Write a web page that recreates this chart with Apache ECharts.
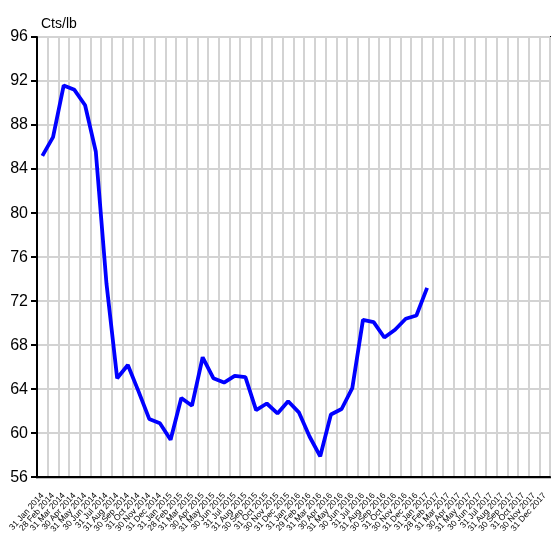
<!DOCTYPE html>
<html lang="en">
<head>
  <meta charset="UTF-8">
  <title>Cts/lb</title>
  <style>
    html, body { margin: 0; padding: 0; background: #fff; }
  </style>
</head>
<body>
<div id="main" style="width: 553px;height:536px;"></div>
<script src="https://cdn.jsdelivr.net/npm/echarts@6/dist/echarts.min.js"></script>
<script type="text/javascript">
  const dates = [
    '31 Jan 2014', '28 Feb 2014', '31 Mar 2014', '30 Apr 2014', '31 May 2014', '30 Jun 2014',
    '31 Jul 2014', '31 Aug 2014', '30 Sep 2014', '31 Oct 2014', '30 Nov 2014', '31 Dec 2014',
    '31 Jan 2015', '28 Feb 2015', '31 Mar 2015', '30 Apr 2015', '31 May 2015', '30 Jun 2015',
    '31 Jul 2015', '31 Aug 2015', '30 Sep 2015', '31 Oct 2015', '30 Nov 2015', '31 Dec 2015',
    '31 Jan 2016', '29 Feb 2016', '31 Mar 2016', '30 Apr 2016', '31 May 2016', '30 Jun 2016',
    '31 Jul 2016', '31 Aug 2016', '30 Sep 2016', '31 Oct 2016', '30 Nov 2016', '31 Dec 2016',
    '31 Jan 2017', '28 Feb 2017', '31 Mar 2017', '30 Apr 2017', '31 May 2017', '30 Jun 2017',
    '31 Jul 2017', '31 Aug 2017', '30 Sep 2017', '31 Oct 2017', '30 Nov 2017', '31 Dec 2017'
  ]
  const price = [
    85.2, 86.9, 91.6, 91.2, 89.8, 85.6,
    73.6, 65.0, 66.2, 63.8, 61.3, 60.9,
    59.4, 63.2, 62.5, 66.9, 65.0, 64.6,
    65.2, 65.1, 62.1, 62.7, 61.8, 62.9,
    61.9, 59.7, 57.9, 61.7, 62.2, 64.1,
    70.3, 70.1, 68.7, 69.4, 70.4, 70.7,
    73.2
  ]
  const unit = 'Cts/lb'

  const font = 'Liberation Sans Narrow, Arial Narrow, Liberation Sans, Arial, sans-serif'
  const Chart = echarts.init(document.getElementById('main'))

  const option = {
    animation: false,
    title: {
      text: unit,
      left: 36,
      top: 12,
      textStyle: { fontFamily: font, fontSize: 14, fontWeight: 'normal', color: '#000' }
    },
    grid: {
      left: 37, right: 3, top: 37, bottom: 58,
      show: true, borderColor: '#000', borderWidth: 2
    },
    xAxis: {
      type: 'category',
      data: dates,
      boundaryGap: true,
      axisLine: { lineStyle: { color: '#000', width: 2 } },
      axisTick: { interval: 0, length: 7, lineStyle: { color: '#000', width: 2 } },
      splitLine: { show: true, interval: 0, lineStyle: { color: '#d3d3d3', width: 2 } },
      axisLabel: {
        interval: 0, rotate: 48, margin: 17,
        fontFamily: font, fontSize: 8.5, color: '#000'
      }
    },
    yAxis: {
      type: 'value',
      min: 56, max: 96, interval: 4,
      axisLine: { show: true, lineStyle: { color: '#000', width: 2 } },
      axisTick: { show: true, length: 6, lineStyle: { color: '#000', width: 2 } },
      splitLine: { lineStyle: { color: '#d3d3d3', width: 2 } },
      axisLabel: { margin: 9, fontFamily: font, fontSize: 16, color: '#000' }
    },
    series: [{
      name: unit,
      type: 'line',
      data: price,
      showSymbol: false,
      lineStyle: { color: '#0000ff', width: 3.8 },
      itemStyle: { color: '#0000ff' }
    }]
  }

  Chart.setOption(option)
</script>
</body>
</html>
